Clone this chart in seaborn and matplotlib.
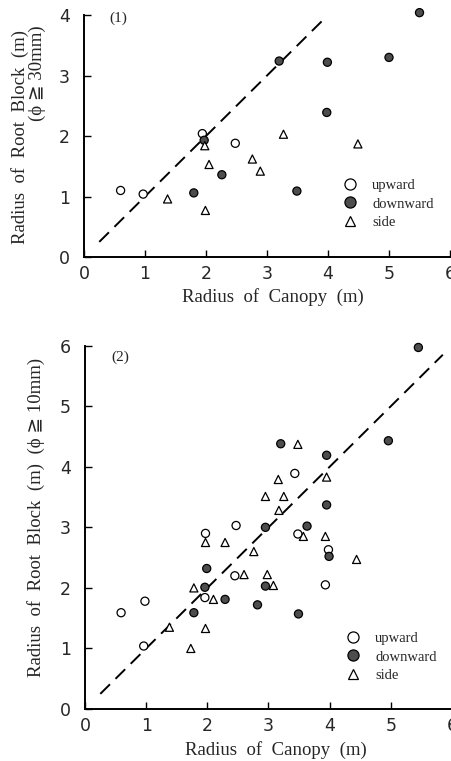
import matplotlib
matplotlib.use("Agg")
import matplotlib.pyplot as plt
import seaborn as sns
import pandas as pd
from matplotlib.lines import Line2D

sns.set_theme(style="ticks")
plt.rcParams['font.family'] = ['Liberation Serif', 'DejaVu Serif', 'DejaVu Sans']

# Panel (1): phi >= 30mm
p1_up_x = [0.60, 0.97, 1.94, 2.48]
p1_up_y = [1.10, 1.04, 2.04, 1.88]
p1_down_x = [5.50, 3.20, 3.99, 5.00, 3.98, 1.97, 2.26, 1.80, 3.49]
p1_down_y = [4.04, 3.24, 3.22, 3.30, 2.39, 1.93, 1.36, 1.06, 1.09]
p1_side_x = [1.98, 2.05, 3.27, 2.76, 2.89, 4.49, 1.37, 1.99]
p1_side_y = [1.84, 1.53, 2.03, 1.62, 1.42, 1.87, 0.96, 0.77]

# Panel (2): phi >= 10mm
p2_up_x = [3.43, 2.47, 1.97, 3.48, 3.98, 2.45, 1.96, 0.98, 0.59, 0.96, 3.93]
p2_up_y = [3.89, 3.03, 2.90, 2.89, 2.63, 2.20, 1.84, 1.78, 1.59, 1.04, 2.05]
p2_down_x = [5.45, 3.20, 3.95, 4.96, 3.95, 3.63, 2.95, 1.99, 1.96, 2.29, 1.78,
             2.82, 2.95, 3.49, 3.99]
p2_down_y = [5.97, 4.38, 4.19, 4.43, 3.37, 3.02, 3.00, 2.32, 2.01, 1.81, 1.59,
             1.72, 2.03, 1.57, 2.52]
p2_side_x = [3.48, 3.16, 3.95, 2.95, 3.25, 3.17, 3.57, 3.93, 1.97, 2.29, 2.76,
             4.44, 2.60, 2.98, 3.08, 1.78, 2.10, 1.38, 1.97, 1.73]
p2_side_y = [4.37, 3.79, 3.83, 3.51, 3.51, 3.28, 2.85, 2.85, 2.75, 2.75, 2.60,
             2.47, 2.22, 2.22, 2.04, 2.00, 1.81, 1.35, 1.33, 1.00]

kinds = ['upward', 'downward', 'side']
line1_x = [0.25, 3.95]
line2_x = [0.25, 5.85]
x_ticks = [0, 1, 2, 3, 4, 5, 6]
y1_ticks = [0, 1, 2, 3, 4]
y2_ticks = [0, 1, 2, 3, 4, 5, 6]


def frame(ux, uy, dx, dy, sx, sy):
    return pd.DataFrame({
        'x': ux + dx + sx,
        'y': uy + dy + sy,
        'kind': ['upward'] * len(ux) + ['downward'] * len(dx) + ['side'] * len(sx),
    })


df1 = frame(p1_up_x, p1_up_y, p1_down_x, p1_down_y, p1_side_x, p1_side_y)
df2 = frame(p2_up_x, p2_up_y, p2_down_x, p2_down_y, p2_side_x, p2_side_y)

palette = {'upward': 'white', 'downward': '#4d4d4d', 'side': 'white'}
markers = {'upward': 'o', 'downward': 'o', 'side': '^'}

fig = plt.figure(figsize=(4.52, 7.61), dpi=100)
ax1 = fig.add_axes([84 / 452, 1 - 257 / 761, 366 / 452, 251 / 761])
ax2 = fig.add_axes([85 / 452, 1 - 709 / 761, 367 / 452, 369.4 / 761])

tick_font = ['DejaVu Sans']


def style(ax, df, lx, ymax, yticks, ylim_top):
    sns.scatterplot(data=df, x='x', y='y', hue='kind', style='kind',
                    palette=palette, markers=markers, s=34, edgecolor='black',
                    linewidth=0.9, legend=False, ax=ax, zorder=3, clip_on=False)
    sns.lineplot(x=lx, y=lx, ax=ax, color='black', lw=1.4,
                 linestyle=(0, (7, 4)), zorder=2)
    ax.set_xlim(0, 6)
    ax.set_ylim(0, ylim_top)
    ax.set_xticks(x_ticks)
    ax.set_yticks(yticks)
    ax.set_xticklabels([str(t) for t in x_ticks], fontsize=12.5, family=tick_font)
    ax.set_yticklabels([str(t) for t in yticks], fontsize=12.5, family=tick_font)
    ax.tick_params(direction='in', length=5, width=1, color='black')
    ax.tick_params(axis='y', pad=10)
    ax.tick_params(axis='x', pad=6)
    ax.set_xlabel('')
    ax.set_ylabel('')
    for s in ['top', 'right']:
        ax.spines[s].set_visible(False)
    ax.spines['left'].set_bounds(0, ymax)
    ax.spines['left'].set_linewidth(1.4)
    ax.spines['bottom'].set_linewidth(1.4)
    ax.spines['left'].set_color('black')
    ax.spines['bottom'].set_color('black')
    ax.set_facecolor('white')
    handles = [
        Line2D([], [], marker='o', ls='', mfc='white', mec='black', ms=8, mew=0.9),
        Line2D([], [], marker='o', ls='', mfc='#4d4d4d', mec='black', ms=8, mew=0.9),
        Line2D([], [], marker='^', ls='', mfc='white', mec='black', ms=7, mew=0.9),
    ]
    return handles


h1 = style(ax1, df1, line1_x, 4, y1_ticks, 4.15)
h2 = style(ax2, df2, line2_x, 6, y2_ticks, 6.1)

leg_kw = dict(loc='upper left', bbox_transform=fig.transFigure, frameon=False,
              fontsize=10.5, handlelength=1.0, handletextpad=1.0,
              labelspacing=0.35, borderpad=0, borderaxespad=0)
ax1.legend(h1, kinds, bbox_to_anchor=(343 / 452, 1 - 179 / 761), **leg_kw)
ax2.legend(h2, kinds, bbox_to_anchor=(346 / 452, 1 - 632 / 761), **leg_kw)

fig.text(118 / 452, 1 - 18 / 761, '(1)', ha='center', va='center', fontsize=11)
fig.text(120 / 452, 1 - 357 / 761, '(2)', ha='center', va='center', fontsize=11)

lab_kw = dict(fontsize=13.5, ha='center', va='center')
fig.text(273 / 452, 1 - 297 / 761, 'Radius  of  Canopy  (m)', **lab_kw)
fig.text(276 / 452, 1 - 750 / 761, 'Radius  of  Canopy  (m)', **lab_kw)
fig.text(20 / 452, 1 - 137 / 761, 'Radius  of  Root  Block  (m)', rotation=90, **lab_kw)
fig.text(37 / 452, 1 - 73 / 761, '(ϕ ≧ 30mm)', rotation=90, **lab_kw)
fig.text(36 / 452, 1 - 517 / 761, 'Radius  of  Root  Block  (m)  (ϕ ≧ 10mm)',
         rotation=90, **lab_kw)

fig.savefig('out.png', dpi=100, facecolor='white')
